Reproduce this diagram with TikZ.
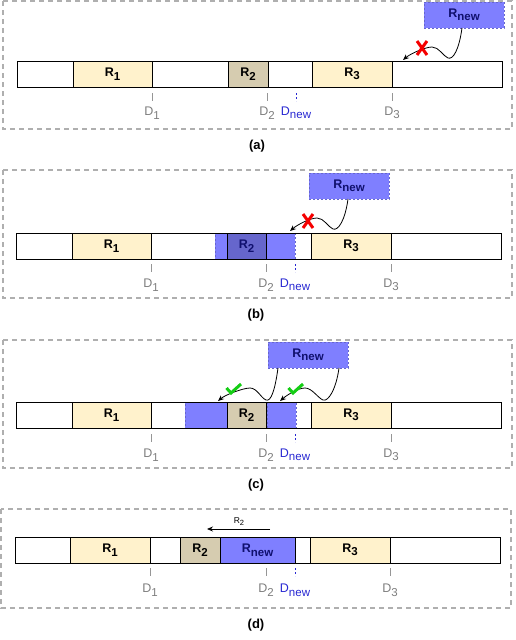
\documentclass[tikz,border=0pt]{standalone}
\usepackage{fontspec}
\setmainfont{Liberation Sans}
\usetikzlibrary{arrows.meta}
\definecolor{cream}{RGB}{255,242,204}
\definecolor{tanfill}{RGB}{214,204,176}
\definecolor{newblue}{RGB}{127,127,255}
\definecolor{darkblue}{RGB}{102,102,204}
\definecolor{navy}{RGB}{16,16,110}
\definecolor{framegray}{RGB}{175,175,175}
\definecolor{tickgray}{RGB}{150,150,150}
\definecolor{labgray}{RGB}{125,125,125}
\definecolor{dblue}{RGB}{40,40,210}
\definecolor{okgreen}{RGB}{20,205,20}
\definecolor{xred}{RGB}{245,0,0}
\newcommand\lsub[1]{\raisebox{-0.28em}{\fontsize{11.5}{11.5}\selectfont #1}}
\tikzset{
  seg/.style={draw=black, line width=0.8pt, inner sep=0pt, outer sep=0pt, anchor=north west,
    minimum height=26pt, font=\fontsize{12.5}{12.5}\selectfont\bfseries, text=black},
  bluezone/.style={seg, fill=newblue, draw=darkblue, dashed, dash pattern=on 2pt off 2pt},
  newbox/.style={draw=darkblue, dash pattern=on 2pt off 2pt, line width=0.8pt, fill=newblue,
    inner sep=0pt, outer sep=0pt, anchor=north west, minimum width=80pt, minimum height=26pt,
    font=\fontsize{12.5}{12.5}\selectfont\bfseries, text=navy},
  panelframe/.style={draw=framegray, line width=1.2pt, dash pattern=on 5pt off 4pt},
  tickline/.style={draw=tickgray, line width=0.8pt},
  newtick/.style={draw=dblue, line width=0.8pt, dash pattern=on 2pt off 2pt},
  dlab/.style={inner sep=0pt, text=labgray, font=\fontsize{12.5}{12.5}\selectfont},
  newlab/.style={inner sep=0pt, text=dblue, font=\fontsize{12.5}{12.5}\selectfont},
  captionlab/.style={inner sep=0pt, font=\fontsize{13}{13}\selectfont\bfseries},
  curvy/.style={draw=black, line width=0.8pt, -{Stealth[length=6pt,width=5pt]}},
  xmark/.style={draw=xred, line width=3pt},
  okmark/.style={draw=okgreen, line width=3pt},
}
\begin{document}
\begin{tikzpicture}[x=1pt,y=-1pt]
\useasboundingbox (0,0) rectangle (515,640);

% ---------------- (a) ----------------
\draw[panelframe] (3,1) rectangle (512,129);
\node[seg, fill=white, minimum width=485pt] (a-bar) at (17,61) {};
\node[seg, fill=cream, minimum width=79pt] (a-r1) at (73,61) {R\lsub{1}};
\node[seg, fill=tanfill, minimum width=40pt] (a-r2) at (228,61) {R\lsub{2}};
\node[seg, fill=cream, minimum width=80pt] (a-r3) at (312,61) {R\lsub{3}};
\draw[tickline] (152,93) -- (152,101);
\draw[tickline] (267,93) -- (267,101);
\draw[newtick] (296,93) -- (296,101);
\draw[tickline] (392,93) -- (392,101);
\node[dlab] (a-d1) at (152,113) {D\lsub{1}};
\node[dlab] (a-d2) at (267,113) {D\lsub{2}};
\node[newlab] (a-dn) at (296,113) {D\lsub{new}};
\node[dlab] (a-d3) at (392,113) {D\lsub{3}};
\node[newbox] (a-new) at (424,2) {R\lsub{new}};
\coordinate (a-tgt) at (403,60);
\draw[curvy] ([xshift=-2pt]a-new.south) .. controls +(-3,22) and +(5,2) .. (448,58)
  .. controls +(-5,-2) and +(7,0) .. (432,47) .. controls +(-7,0) and +(7,-6) .. (a-tgt);
\draw[xmark] (417,41) -- (427,55) (427,41) -- (417,55);
\node[captionlab] (a-cap) at (257,146) {(a)};

% ---------------- (b) ----------------
\draw[panelframe] (3,170) rectangle (512,298);
\node[seg, fill=white, minimum width=485pt] (b-bar) at (16,233) {};
\node[seg, fill=cream, minimum width=79pt] (b-r1) at (72,233) {R\lsub{1}};
\node[seg, fill=cream, minimum width=80pt] (b-r3) at (311,233) {R\lsub{3}};
\node[bluezone, minimum width=80pt] (b-zone) at (215,233) {};
\node[seg, fill=darkblue, text=navy, minimum width=39pt] (b-r2) at (227,233) {R\lsub{2}};
\node[seg, minimum width=485pt] (b-out) at (16,233) {};
\draw[tickline] (151,264) -- (151,272);
\draw[tickline] (266,264) -- (266,272);
\draw[newtick] (295,264) -- (295,272);
\draw[tickline] (391,264) -- (391,272);
\node[dlab] (b-d1) at (151,285) {D\lsub{1}};
\node[dlab] (b-d2) at (266,285) {D\lsub{2}};
\node[newlab] (b-dn) at (295,285) {D\lsub{new}};
\node[dlab] (b-d3) at (391,285) {D\lsub{3}};
\node[newbox] (b-new) at (309,173) {R\lsub{new}};
\coordinate (b-tgt) at (290,231);
\draw[curvy] ([xshift=-1pt]b-new.south) .. controls +(-3,22) and +(5,2) .. (333,229)
  .. controls +(-5,-2) and +(7,0) .. (317,218) .. controls +(-7,0) and +(7,-6) .. (b-tgt);
\draw[xmark] (303,214) -- (313,228) (313,214) -- (303,228);
\node[captionlab] (b-cap) at (256,315) {(b)};

% ---------------- (c) ----------------
\draw[panelframe] (3,340) rectangle (512,468);
\node[seg, fill=white, minimum width=485pt] (c-bar) at (16,402) {};
\node[seg, fill=cream, minimum width=79pt] (c-r1) at (72,402) {R\lsub{1}};
\node[seg, fill=cream, minimum width=80pt] (c-r3) at (311,402) {R\lsub{3}};
\node[bluezone, minimum width=42pt] (c-zl) at (185,402) {};
\node[bluezone, minimum width=29pt] (c-zr) at (267,402) {};
\node[seg, fill=tanfill, minimum width=39pt] (c-r2) at (227,402) {R\lsub{2}};
\node[seg, minimum width=485pt] (c-out) at (16,402) {};
\draw[tickline] (151,434) -- (151,442);
\draw[tickline] (266,434) -- (266,442);
\draw[newtick] (295,434) -- (295,442);
\draw[tickline] (391,434) -- (391,442);
\node[dlab] (c-d1) at (151,455) {D\lsub{1}};
\node[dlab] (c-d2) at (266,455) {D\lsub{2}};
\node[newlab] (c-dn) at (295,455) {D\lsub{new}};
\node[dlab] (c-d3) at (391,455) {D\lsub{3}};
\node[newbox] (c-new) at (268,342) {R\lsub{new}};
\coordinate (c-tgl) at (218,401);
\coordinate (c-tgr) at (280,401);
\draw[curvy] ([xshift=-30pt]c-new.south) .. controls +(-3,22) and +(5,2) .. (266,400)
  .. controls +(-5,-2) and +(7,0) .. (250,388) .. controls +(-7,0) and +(7,-6) .. (c-tgl);
\draw[curvy] ([xshift=31pt]c-new.south) .. controls +(-3,22) and +(5,2) .. (323,400)
  .. controls +(-5,-2) and +(7,0) .. (305,388) .. controls +(-7,0) and +(7,-6) .. (c-tgr);
\draw[okmark] (226.5,388) -- (231,393) -- (241,384);
\draw[okmark] (288.5,388) -- (293,393) -- (303,384);
\node[captionlab] (c-cap) at (256,485) {(c)};

% ---------------- (d) ----------------
\draw[panelframe] (1,509) rectangle (511,608);
\node[seg, fill=white, minimum width=485pt] (d-bar) at (15,537) {};
\node[seg, fill=cream, minimum width=80pt] (d-r1) at (70,537) {R\lsub{1}};
\node[seg, fill=tanfill, minimum width=40pt] (d-r2) at (180,537) {R\lsub{2}};
\node[seg, fill=newblue, text=navy, minimum width=75pt] (d-rn) at (220,537) {R\lsub{new}};
\node[seg, fill=cream, minimum width=80pt] (d-r3) at (310,537) {R\lsub{3}};
\draw[tickline] (150,568) -- (150,576);
\draw[tickline] (266,568) -- (266,576);
\draw[newtick] (295,568) -- (295,576);
\draw[tickline] (390,568) -- (390,576);
\node[dlab] (d-d1) at (150,590) {D\lsub{1}};
\node[dlab] (d-d2) at (266,590) {D\lsub{2}};
\node[newlab] (d-dn) at (295,590) {D\lsub{new}};
\node[dlab] (d-d3) at (390,590) {D\lsub{3}};
\coordinate (d-from) at (270,529);
\coordinate (d-to) at (207,529);
\draw[curvy] (d-from) -- (d-to);
\node[inner sep=0pt, font=\fontsize{8.5}{8.5}\selectfont] (d-mv) at (239,522) {R\raisebox{-0.25em}{\fontsize{7.5}{7.5}\selectfont 2}};
\node[captionlab] (d-cap) at (256,625) {(d)};
\end{tikzpicture}
\end{document}
